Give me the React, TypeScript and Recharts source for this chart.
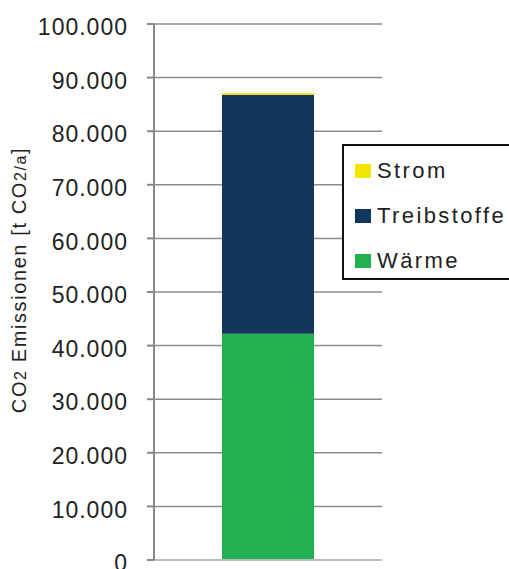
import { BarChart, Bar, XAxis, YAxis, CartesianGrid, ReferenceLine } from "recharts";

const categories = ["Gesamt"];
const waerme = [42200];
const treibstoffe = [44600];
const strom = [350];
const yTicks = [0, 10000, 20000, 30000, 40000, 50000, 60000, 70000, 80000, 90000, 100000];

// stacking order bottom -> top
const series = [
  { key: "Wärme", color: "#22b050" },
  { key: "Treibstoffe", color: "#13365c" },
  { key: "Strom", color: "#f2e600" },
];

const data = categories.map((name, i) => ({
  name,
  Wärme: waerme[i],
  Treibstoffe: treibstoffe[i],
  Strom: strom[i],
}));

const FONT = "'Liberation Sans', Arial, sans-serif";

function fmt(v: number) {
  return String(v).replace(/\B(?=(\d{3})+(?!\d))/g, ".");
}

function LegendBox() {
  const items = [...series].reverse();
  return (
    <div
      style={{
        position: "absolute",
        left: 342,
        top: 144,
        width: 172,
        height: 136,
        border: "2px solid #111",
        background: "#fff",
        boxSizing: "border-box",
        paddingTop: 2,
        paddingLeft: 11,
        fontFamily: FONT,
      }}
    >
      {items.map((s) => (
        <div key={s.key} style={{ display: "flex", alignItems: "center", height: 45 }}>
          <span style={{ width: 16, height: 14, background: s.color, marginRight: 6 }} />
          <span style={{ fontSize: 22, color: "#222", letterSpacing: 2.4 }}>{s.key}</span>
        </div>
      ))}
    </div>
  );
}

function AxisTitle() {
  return (
    <text
      x={26}
      y={280}
      transform="rotate(-90, 26, 280)"
      textAnchor="middle"
      fontFamily={FONT}
      fontSize={20}
      letterSpacing={1.6}
      fill="#222"
    >
      CO<tspan fontSize={16}>2</tspan> Emissionen [t CO<tspan fontSize={16}>2/a</tspan>]
    </text>
  );
}

export default function App() {
  return (
    <div style={{ position: "absolute", left: 0, top: 0, width: 509, height: 600 }}>
      <BarChart
        width={509}
        height={600}
        data={data}
        margin={{ top: 24, right: 127, left: 0, bottom: 40 }}
      >
        <CartesianGrid vertical={false} stroke="#8c8c8c" strokeWidth={1.5} />
        <XAxis dataKey="name" hide />
        <YAxis
          width={154}
          domain={[0, 100000]}
          ticks={yTicks}
          interval={0}
          tickFormatter={fmt}
          axisLine={{ stroke: "#888", strokeWidth: 2 }}
          tickLine={{ stroke: "#888", strokeWidth: 2 }}
          tickSize={7}
          tickMargin={19}
          tick={{ fontSize: 23, fill: "#222", fontFamily: FONT, letterSpacing: 1, dy: 3 }}
          label={<AxisTitle />}
        />
        <YAxis
          yAxisId="r"
          orientation="right"
          width={0}
          tick={false}
          tickLine={false}
          axisLine={{ stroke: "#c4c4c4", strokeWidth: 2 }}
        />
        <ReferenceLine y={0} stroke="#bdbdbd" strokeWidth={2} />
        {series.map((s) => (
          <Bar
            key={s.key}
            dataKey={s.key}
            stackId="a"
            fill={s.color}
            barSize={92}
            isAnimationActive={false}
          />
        ))}
      </BarChart>
      <LegendBox />
    </div>
  );
}
